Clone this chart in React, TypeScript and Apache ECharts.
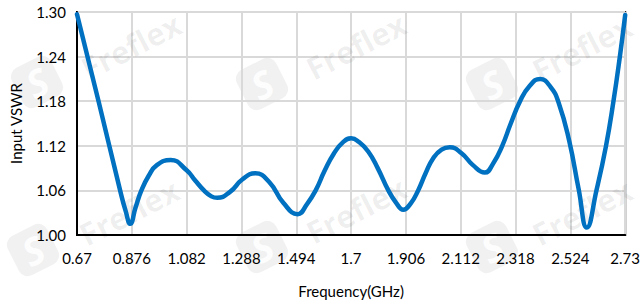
import React, { useEffect, useRef } from "react";
import * as echarts from "echarts";

// Frequency (GHz) and input VSWR
const freqGHz = [
  0.67, 0.751, 0.832, 0.853, 0.87, 0.89, 0.912, 0.94, 0.97, 1.022,
  1.082, 1.115, 1.147, 1.175, 1.197, 1.245, 1.292, 1.34, 1.393, 1.446, 1.499,
  1.535, 1.567, 1.6, 1.636, 1.67, 1.7, 1.73, 1.765, 1.8, 1.84, 1.87, 1.896,
  1.925, 1.952, 1.98, 2.008, 2.04, 2.071, 2.115, 2.158, 2.202,
  2.235, 2.268, 2.3, 2.335, 2.37, 2.41, 2.45, 2.48, 2.52, 2.555, 2.586,
  2.622, 2.658, 2.686, 2.71, 2.73,
];
const vswr = [
  1.297, 1.18, 1.06, 1.032, 1.015, 1.037, 1.06, 1.08, 1.094, 1.101,
  1.087, 1.073, 1.06, 1.052, 1.05, 1.058, 1.075, 1.083, 1.071, 1.043, 1.028,
  1.042, 1.06, 1.086, 1.11, 1.125, 1.13, 1.125, 1.112, 1.09, 1.06, 1.043, 1.034,
  1.043, 1.06, 1.083, 1.103, 1.115, 1.118, 1.11, 1.094, 1.084,
  1.097, 1.12, 1.15, 1.18, 1.2, 1.21, 1.199, 1.178, 1.126, 1.062, 1.01,
  1.06, 1.12, 1.18, 1.24, 1.296,
];

const xTickLabels = ["0.67", "0.876", "1.082", "1.288", "1.494", "1.7", "1.906", "2.112", "2.318", "2.524", "2.73"];
const yTickLabels = ["1.00", "1.06", "1.12", "1.18", "1.24", "1.30"];

const X_MIN = 0.67;
const X_STEP = 0.206;
const Y_MIN = 1.0;
const Y_STEP = 0.06;

const watermarkSpots = [
  { tx: 131, ty: 46, lx: 37, ly: 82 },
  { tx: 356, ty: 46, lx: 262, ly: 84 },
  { tx: 582, ty: 48, lx: 492, ly: 84 },
  { tx: 129, ty: 212, lx: 33, ly: 250 },
  { tx: 356, ty: 210, lx: 262, ly: 247 },
  { tx: 582, ty: 212, lx: 492, ly: 247 },
];

export default function App() {
  const ref = useRef<HTMLDivElement>(null);

  useEffect(() => {
    if (!ref.current) return;
    const chart = echarts.init(ref.current, undefined, { renderer: "svg" });
    const data = freqGHz.map((f, i) => [(f - X_MIN) / X_STEP, (vswr[i] - Y_MIN) / Y_STEP]);
    const rot = (27 * Math.PI) / 180;
    const graphics: any[] = [];
    watermarkSpots.forEach((w) => {
      graphics.push({
        type: "text",
        x: w.tx,
        y: w.ty,
        rotation: rot,
        z: 1,
        silent: true,
        style: {
          text: "Freflex",
          fontSize: 31,
          fontWeight: "bold",
          fontFamily: "Open Sans",
          fill: "rgba(0,0,0,0.065)",
          align: "center",
          verticalAlign: "middle",
        },
      });
      graphics.push({
        type: "group",
        x: w.lx,
        y: w.ly,
        rotation: rot,
        z: 1,
        silent: true,
        children: [
          {
            type: "rect",
            shape: { x: -22, y: -22, width: 44, height: 44, r: 10 },
            style: { fill: "rgba(0,0,0,0.055)" },
          },
          {
            type: "text",
            style: {
              text: "S",
              x: 0,
              y: 0,
              fontSize: 38,
              fontWeight: "bold",
              fontStyle: "italic",
              fontFamily: "Open Sans",
              fill: "rgba(255,255,255,0.9)",
              align: "center",
              verticalAlign: "middle",
            },
          },
        ],
      });
    });

    chart.setOption({
      animation: false,
      backgroundColor: "#ffffff",
      textStyle: { fontFamily: "Lato" },
      grid: {
        left: 76,
        right: 17,
        top: 12,
        bottom: 72,
        show: true,
        borderColor: "#000000",
        borderWidth: 2,
        backgroundColor: "transparent",
      },
      graphic: graphics,
      xAxis: {
        type: "value",
        min: 0,
        max: xTickLabels.length - 1,
        interval: 1,
        name: "Frequency(GHz)",
        nameLocation: "middle",
        nameGap: 48,
        nameTextStyle: { fontSize: 15, color: "#000", fontFamily: "Lato" },
        axisLine: { show: true, lineStyle: { color: "#000", width: 2 } },
        axisTick: { show: false },
        axisLabel: {
          fontSize: 15,
          color: "#000",
          margin: 15,
          fontFamily: "Lato",
          formatter: (v: number) => xTickLabels[Math.round(v)] ?? "",
        },
        splitLine: { show: true, lineStyle: { color: "#d9d9d9", width: 2 } },
      },
      yAxis: {
        type: "value",
        min: 0,
        max: yTickLabels.length - 1,
        interval: 1,
        name: "Input VSWR",
        nameLocation: "middle",
        nameGap: 54,
        nameTextStyle: { fontSize: 15, color: "#000", fontFamily: "Lato" },
        axisLine: { show: true, lineStyle: { color: "#000", width: 2 } },
        axisTick: { show: false },
        axisLabel: {
          fontSize: 15,
          color: "#000",
          margin: 11,
          fontFamily: "Lato",
          formatter: (v: number) => yTickLabels[Math.round(v)] ?? "",
        },
        splitLine: { show: true, lineStyle: { color: "#d9d9d9", width: 2 } },
      },
      series: [
        {
          type: "line",
          data,
          smooth: 0.5,
          showSymbol: false,
          symbol: "none",
          z: 3,
          lineStyle: { color: "#0070c0", width: 4.5, cap: "round", join: "round" },
        },
      ],
    });
    return () => chart.dispose();
  }, []);

  return (
    <div
      ref={ref}
      style={{ position: "fixed", left: 0, top: 0, width: 643, height: 307, background: "#fff" }}
    />
  );
}
